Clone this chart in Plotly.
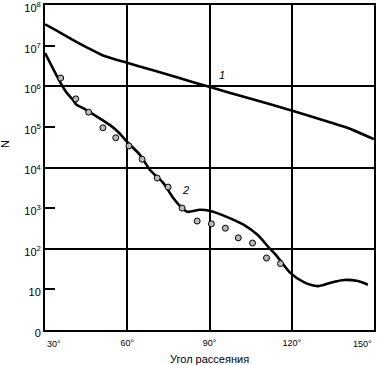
import math
import plotly.graph_objects as go

# Curve 1
angle1 = [30.0, 35.3, 40.1, 45.2, 51.1, 60.2, 69.4, 79.3, 89.9, 103.8, 119.9, 134.2, 140.5, 150.0]
n1 = [3.35e7, 2.14e7, 1.39e7, 9.1e6, 5.75e6, 3.77e6, 2.47e6, 1.57e6, 9.7e5, 5.2e5, 2.55e5, 1.29e5, 9.4e4, 5.0e4]

# Curve 2
angle2 = [30.0, 35.7, 37.9, 40.1, 41.5, 43.7, 48.9, 53.6, 56.6, 60.2, 64.6, 68.3, 73.1, 76.7,
          80.0, 81.9, 86.6, 90.3, 96.5, 102.4, 107.5, 111.5, 114.8, 119.6, 124.4, 129.5,
          134.2, 139.0, 144.1, 147.8]
n2 = [6.6e6, 1.2e6, 6.9e5, 4.7e5, 3.5e5, 2.95e5, 1.8e5, 1.12e5, 7.6e4, 4.1e4, 2.05e4, 8.7e3,
      4.2e3, 1.8e3, 1.0e3, 810, 910, 850, 600, 390, 220, 110, 63, 25, 15, 12, 14.5, 17, 16, 13]

# Experimental points
angle_pts = [35.7, 41.2, 45.9, 51.1, 55.8, 60.6, 65.4, 70.9, 74.9, 80.0, 85.5, 90.7, 95.8,
             100.5, 105.7, 110.8, 115.9]
n_pts = [1.6e6, 4.9e5, 2.3e5, 9.5e4, 5.4e4, 3.4e4, 1.6e4, 5.5e3, 3.3e3, 1.0e3, 480, 410, 320,
         185, 138, 59, 43]

x_ticks = [30, 60, 90, 120, 150]
x_tick_text = ["30°", "60°", "90°", "120°", "150°"]
y_ticks = [1, 10, 1e2, 1e3, 1e4, 1e5, 1e6, 1e7, 1e8]
y_tick_text = ["0", "10", "10<sup>2</sup>", "10<sup>3</sup>", "10<sup>4</sup>",
               "10<sup>5</sup>", "10<sup>6</sup>", "10<sup>7</sup>", "10<sup>8</sup>"]
y_grid = [1e2, 1e4, 1e6]

curve_labels = [("1", 94.7, 1.9e6), ("2", 81.3, 2.8e3)]

FONT = "Liberation Sans, Arial, sans-serif"

fig = go.Figure()
fig.add_trace(go.Scatter(x=angle1, y=n1, mode="lines",
                         line=dict(color="black", width=2.6, shape="spline", smoothing=0.6)))
fig.add_trace(go.Scatter(x=angle2, y=n2, mode="lines",
                         line=dict(color="black", width=2.6, shape="spline", smoothing=0.8)))
fig.add_trace(go.Scatter(x=angle_pts, y=n_pts, mode="markers",
                         marker=dict(size=6, color="#b8b8b8", line=dict(color="black", width=1))))

for txt, xx, yy in curve_labels:
    fig.add_annotation(x=xx, y=math.log10(yy), yref="y", xref="x", text="<i>" + txt + "</i>",
                       showarrow=False, font=dict(size=11, color="black", family=FONT))

# end tick labels kept inside the picture
fig.add_annotation(x=x_ticks[0], y=-0.042, xref="x", yref="paper", text=x_tick_text[0],
                   showarrow=False, xanchor="left", yanchor="middle",
                   font=dict(size=9, color="black", family=FONT))
fig.add_annotation(x=x_ticks[-1], y=-0.042, xref="x", yref="paper", text=x_tick_text[-1],
                   showarrow=False, xanchor="right", yanchor="middle",
                   font=dict(size=9, color="black", family=FONT))

# axis titles
fig.add_annotation(x=0.5, y=-0.088, xref="paper", yref="paper", text="Угол рассеяния",
                   showarrow=False, xanchor="center", yanchor="middle",
                   font=dict(size=11, color="black", family=FONT))
fig.add_annotation(x=-0.122, y=0.572, xref="paper", yref="paper", text="N", textangle=-90,
                   showarrow=False, xanchor="center", yanchor="middle",
                   font=dict(size=11, color="black", family=FONT))

fig.update_layout(
    width=378, height=365,
    margin=dict(l=45, r=4, t=5, b=35),
    paper_bgcolor="white", plot_bgcolor="white",
    showlegend=False,
    font=dict(family=FONT, size=10, color="black"),
)
fig.update_xaxes(
    range=[29.97, 150.03], tickvals=x_ticks,
    ticktext=[""] + x_tick_text[1:-1] + [""],
    showgrid=True, gridcolor="black", gridwidth=1.5,
    showline=True, linecolor="black", linewidth=2, mirror=True,
    ticks="", zeroline=False, automargin=False, ticklabeloverflow="allow",
    ticklabelstandoff=3,
    tickfont=dict(size=9),
)
fig.update_yaxes(
    type="log", range=[-0.002, 8.002], tickvals=y_ticks, ticktext=y_tick_text,
    showgrid=False,
    showline=True, linecolor="black", linewidth=2, mirror=True,
    ticks="inside", ticklen=10, tickwidth=1.5, tickcolor="black",
    zeroline=False, automargin=False, ticklabeloverflow="allow",
    ticklabelshift=3,
    tickfont=dict(size=11),
    minor=dict(tickvals=y_grid, showgrid=True, gridcolor="black", gridwidth=1.5, ticks=""),
)

fig.write_html("out.html", config={"displayModeBar": False},
               post_script="document.body.style.margin='0';document.body.style.overflow='hidden';")
